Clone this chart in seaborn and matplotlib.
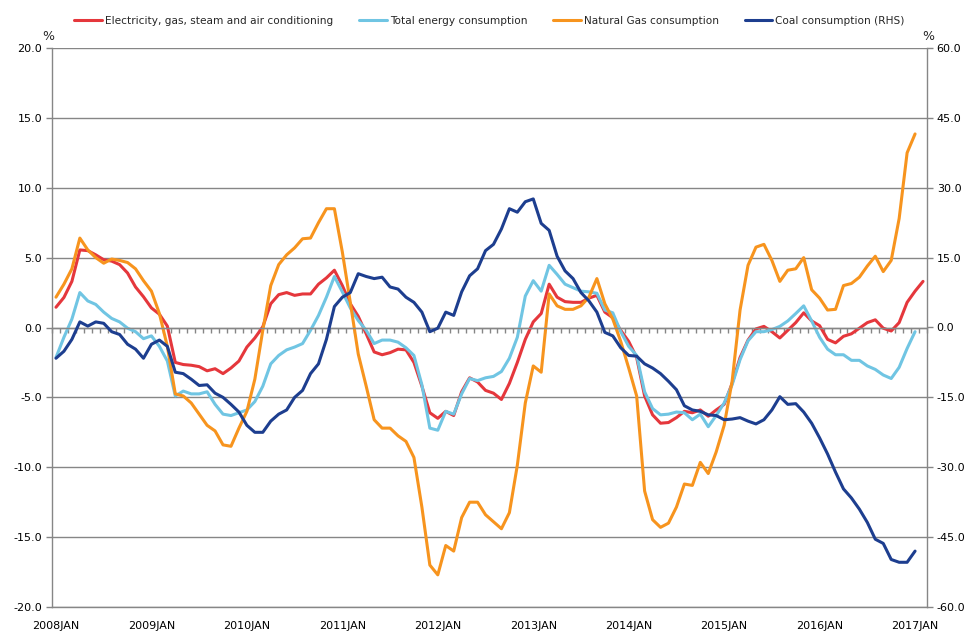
import numpy as np
import pandas as pd
import matplotlib
matplotlib.use("Agg")
import matplotlib.pyplot as plt
import seaborn as sns

# monthly categories, 2008JAN .. 2017FEB
months = pd.date_range("2008-01-01", periods=110, freq="MS")
month_labels = [d.strftime("%Y") + d.strftime("%b").upper() for d in months]

electricity = [1.45, 2.15, 3.3, 5.55, 5.5, 5.2, 4.85, 4.75, 4.5, 3.9,
               2.9, 2.2, 1.4, 0.95, 0.1, -2.5, -2.65, -2.7, -2.8, -3.1,
               -2.95, -3.3, -2.9, -2.4, -1.4, -0.75, 0.05, 1.7, 2.35, 2.5,
               2.3, 2.4, 2.4, 3.1, 3.55, 4.1, 3.0, 1.7, 0.8, -0.45,
               -1.75, -1.95, -1.8, -1.55, -1.6, -2.5, -4.2, -6.1, -6.5, -6.0,
               -6.3, -4.6, -3.6, -3.9, -4.5, -4.7, -5.15, -4.0, -2.5, -0.85,
               0.4, 1.0, 3.1, 2.17, 1.85, 1.8, 1.8, 2.1, 2.3, 1.1,
               0.7, -0.2, -1.0, -2.15, -4.9, -6.25, -6.85, -6.8, -6.45, -6.0,
               -6.1, -5.9, -6.35, -5.9, -5.5, -4.0, -2.15, -0.9, -0.1, 0.08,
               -0.3, -0.75, -0.2, 0.35, 1.05, 0.47, 0.13, -0.85, -1.1, -0.63,
               -0.45, -0.05, 0.35, 0.55, -0.05, -0.25, 0.35, 1.8, 2.6, 3.3]

total_energy = [-2.15, -0.7, 0.6, 2.5, 1.9, 1.65, 1.1, 0.65, 0.4, -0.05,
                -0.3, -0.8, -0.6, -1.35, -2.4, -4.9, -4.55, -4.75, -4.75, -4.6,
                -5.5, -6.2, -6.3, -6.1, -5.9, -5.3, -4.2, -2.6, -2.0, -1.6,
                -1.4, -1.15, -0.2, 0.86, 2.17, 3.65, 2.55, 1.4, 0.5, -0.2,
                -1.15, -0.9, -0.9, -1.05, -1.45, -2.0, -4.1, -7.2, -7.35, -6.0,
                -6.2, -4.75, -3.65, -3.8, -3.6, -3.5, -3.15, -2.2, -0.7, 2.25,
                3.35, 2.6, 4.45, 3.8, 3.1, 2.85, 2.6, 2.55, 2.45, 1.25,
                1.05, -0.3, -1.35, -2.0, -4.6, -5.8, -6.25, -6.2, -6.05, -6.1,
                -6.6, -6.2, -7.1, -6.3, -5.4, -4.1, -2.3, -0.95, -0.3, -0.3,
                -0.15, 0.08, 0.47, 1.0, 1.55, 0.47, -0.7, -1.55, -1.95, -1.95,
                -2.35, -2.35, -2.75, -3.0, -3.4, -3.65, -2.85, -1.5, -0.3]

natural_gas = [2.17, 3.1, 4.2, 6.4, 5.55, 5.0, 4.6, 4.9, 4.8, 4.65,
               4.2, 3.35, 2.6, 1.0, -1.35, -4.75, -4.9, -5.4, -6.2, -7.0,
               -7.4, -8.4, -8.5, -7.2, -6.0, -3.7, -0.2, 3.0, 4.5, 5.2,
               5.7, 6.35, 6.4, 7.5, 8.5, 8.5, 5.4, 1.8, -1.9, -4.2,
               -6.6, -7.2, -7.2, -7.75, -8.15, -9.3, -12.85, -17.0, -17.7, -15.6,
               -16.0, -13.6, -12.5, -12.5, -13.4, -13.9, -14.4, -13.25, -9.85, -5.4,
               -2.75, -3.2, 2.4, 1.55, 1.3, 1.3, 1.55, 2.17, 3.5, 1.7,
               0.6, -1.0, -2.9, -4.9, -11.7, -13.75, -14.3, -14.0, -12.85, -11.2,
               -11.3, -9.65, -10.45, -8.9, -7.0, -3.85, 1.25, 4.45, 5.75, 5.95,
               4.8, 3.3, 4.1, 4.2, 5.0, 2.7, 2.1, 1.25, 1.3, 3.0,
               3.15, 3.6, 4.4, 5.1, 4.0, 4.8, 7.8, 12.5, 13.85]

coal_rhs = [-6.6, -5.1, -2.55, 1.2, 0.3, 1.2, 0.9, -0.9, -1.5, -3.6,
            -4.65, -6.6, -3.6, -2.7, -4.05, -9.6, -9.9, -11.1, -12.45, -12.3,
            -14.1, -15.0, -16.5, -18.15, -21.0, -22.5, -22.5, -20.1, -18.6, -17.7,
            -15.0, -13.5, -9.9, -7.8, -2.55, 4.5, 6.5, 7.5, 11.55, 10.95,
            10.5, 10.8, 8.7, 8.25, 6.5, 5.4, 3.3, -0.9, -0.15, 3.3,
            2.6, 7.65, 11.1, 12.6, 16.5, 17.85, 21.15, 25.5, 24.75, 27.0,
            27.6, 22.35, 20.85, 15.3, 12.15, 10.5, 7.5, 5.7, 3.3, -1.05,
            -1.8, -4.35, -6.0, -6.15, -7.8, -8.7, -9.9, -11.55, -13.35, -16.8,
            -17.7, -18.0, -18.75, -18.9, -19.8, -19.65, -19.35, -20.1, -20.7, -19.8,
            -17.7, -14.85, -16.5, -16.35, -18.15, -20.55, -23.7, -27.15, -31.05, -34.65,
            -36.6, -39.0, -41.85, -45.45, -46.35, -49.8, -50.4, -50.4, -48.0]

sns.set_style("white")
plt.rcParams["font.family"] = ["DejaVu Sans"]

GRID = "#868686"
TXT = "#000000"
FS = 8
LW = 2.2

fig = plt.figure(figsize=(9.79, 6.41), dpi=100)
ax = fig.add_axes([52 / 979, 34 / 641, 875 / 979, 559 / 641])
ax2 = ax.twinx()

sns.lineplot(x=np.arange(len(electricity)), y=electricity, ax=ax, color="#E5373C",
             linewidth=LW, label="Electricity, gas, steam and air conditioning")
sns.lineplot(x=np.arange(len(total_energy)), y=total_energy, ax=ax, color="#70C5E3",
             linewidth=LW, label="Total energy consumption")
sns.lineplot(x=np.arange(len(natural_gas)), y=natural_gas, ax=ax, color="#F7941E",
             linewidth=LW, label="Natural Gas consumption")
sns.lineplot(x=np.arange(len(coal_rhs)), y=coal_rhs, ax=ax2, color="#1D3E8F",
             linewidth=LW, label="Coal consumption (RHS)")

ax.set_xlim(-0.5, len(months) - 0.5)
ax.set_ylim(-20, 20)
ax2.set_ylim(-60, 60)
ax.set_yticks(np.arange(-20, 21, 5))
ax2.set_yticks(np.arange(-60, 61, 15))
ax.set_yticklabels([f"{v:.1f}" for v in np.arange(-20, 21, 5)])
ax2.set_yticklabels([f"{v:.1f}" for v in np.arange(-60, 61, 15)])

ax.set_xticks(np.arange(0, len(months), 12))
ax.set_xticklabels(month_labels[::12])
ax.set_xticks(np.arange(-0.5, len(months), 1), minor=True)

ax.grid(axis="y", color=GRID, linewidth=1)
ax.set_axisbelow(True)

# top spine becomes the category axis at zero
ax.spines["top"].set_position(("data", 0))
for s in ["top", "left", "bottom"]:
    ax.spines[s].set_color(GRID)
    ax.spines[s].set_linewidth(1)
ax.spines["right"].set_visible(False)
for s in ["top", "left", "bottom"]:
    ax2.spines[s].set_visible(False)
ax2.spines["right"].set_color(GRID)
ax2.spines["right"].set_linewidth(1)

ax.tick_params(axis="x", which="major", length=0, top=False, bottom=False,
               labelbottom=True, labeltop=False, labelsize=FS, pad=10, labelcolor=TXT)
ax.tick_params(axis="x", which="minor", top=True, bottom=False, direction="in",
               length=3.5, width=1, color=GRID)
ax.tick_params(axis="y", length=4, width=1, color=GRID, labelsize=FS, pad=3,
               labelcolor=TXT)
ax2.tick_params(axis="y", length=4, width=1, color=GRID, labelsize=FS, pad=3,
                labelcolor=TXT)
ax.set_xlabel("")
ax.set_ylabel("")
ax2.set_ylabel("")

fig.text(48 / 979, 1 - 36 / 641, "%", fontsize=FS + 1, ha="center", va="center")
fig.text(928 / 979, 1 - 36 / 641, "%", fontsize=FS + 1, ha="center", va="center")

h1, l1 = ax.get_legend_handles_labels()
h2, l2 = ax2.get_legend_handles_labels()
ax.get_legend().remove()
ax2.get_legend().remove()
fig.legend(h1 + h2, l1 + l2, loc="center", bbox_to_anchor=(0.5, 1 - 21 / 641),
           ncol=4, frameon=False, fontsize=7.6, handlelength=2.6,
           handletextpad=0.3, columnspacing=2.45)

fig.savefig("out.png", dpi=100)
